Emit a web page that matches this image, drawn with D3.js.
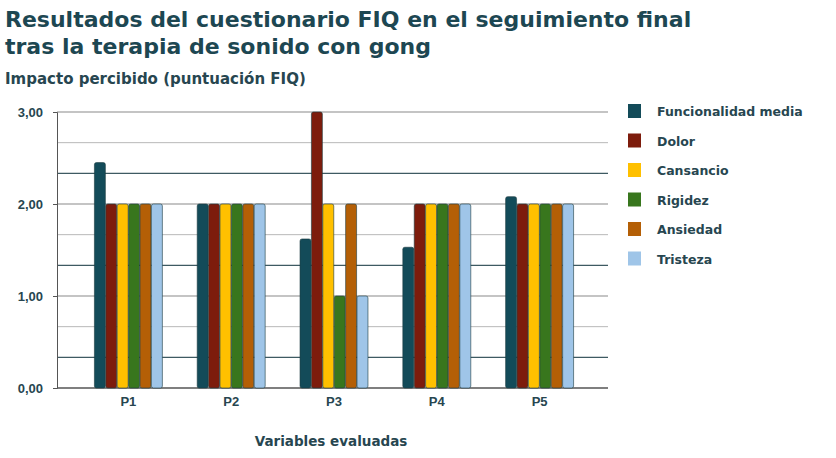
<!DOCTYPE html>
<html><head><meta charset="utf-8">
<script src="https://cdn.jsdelivr.net/npm/d3@7"></script>
<style>body{margin:0;background:#fff;font-family:"DejaVu Sans",Verdana,sans-serif}</style>
</head><body><svg id="c" width="836" height="458"></svg>
<script>
const cats = ["P1", "P2", "P3", "P4", "P5"];
const series = ["Funcionalidad media", "Dolor", "Cansancio", "Rigidez", "Ansiedad", "Tristeza"];
const colors = ["#134b59", "#7d1c0c", "#ffc000", "#38761d", "#b45f06", "#9fc5e8"];
const values = [
  [2.45, 2, 2, 2, 2, 2],
  [2, 2, 2, 2, 2, 2],
  [1.62, 3, 2, 1, 2, 1],
  [1.53, 2, 2, 2, 2, 2],
  [2.08, 2, 2, 2, 2, 2]
];
const yTicks = [0, 1, 2, 3];

const svg = d3.select("#c");
const txt = "#274650";
svg.append("text").attr("x", 5).attr("y", 27).text("Resultados del cuestionario FIQ en el seguimiento final")
  .attr("font-size", 22).attr("font-weight", "bold").attr("fill", "#1d4752");
svg.append("text").attr("x", 5).attr("y", 54).text("tras la terapia de sonido con gong")
  .attr("font-size", 22).attr("font-weight", "bold").attr("fill", "#1d4752");
svg.append("text").attr("x", 5).attr("y", 84).text("Impacto percibido (puntuación FIQ)")
  .attr("font-size", 15).attr("font-weight", "bold").attr("fill", txt);

const x0 = 57, x1 = 608;
const x = d3.scaleBand().domain(cats).range([77, 591]).paddingInner(0.33).paddingOuter(0.165);
const xs = d3.scaleBand().domain(series).range([0, x.bandwidth()]).padding(0.04);
const y = d3.scaleLinear().domain([0, 3]).range([388, 112]);

// grid
d3.range(1, 10).forEach(i => {
  const v = i / 3;
  if (i % 3 === 0) return;
  svg.append("line").attr("x1", x0).attr("x2", x1).attr("y1", y(v)).attr("y2", y(v))
    .attr("stroke", i % 3 === 1 ? "#3e5a62" : "#b8b8b8").attr("stroke-width", i % 3 === 1 ? 1.2 : 1);
});
yTicks.forEach(t => {
  if (t === 0) return;
  svg.append("line").attr("x1", x0).attr("x2", x1).attr("y1", y(t)).attr("y2", y(t))
    .attr("stroke", "#b0b0b0").attr("stroke-width", 1.5);
});

const gy = svg.append("g").attr("transform", `translate(${x0},0)`)
  .call(d3.axisLeft(y).tickValues(yTicks).tickSize(4).tickFormat(d => d3.format(".2f")(d).replace(".", ",")));
gy.select(".domain").attr("stroke", "#555");
gy.selectAll("text").attr("font-size", 13).attr("font-weight", "bold").attr("fill", txt).attr("x", -14);
gy.selectAll(".tick line").attr("stroke", "#555");

const gx = svg.append("g").attr("transform", `translate(0,388)`)
  .call(d3.axisBottom(x).tickSize(0).tickPadding(9));
gx.select(".domain").attr("d", `M${x0},0H${x1}`).attr("stroke", "#555").attr("stroke-width", 1.5);
gx.selectAll("text").attr("font-size", 13).attr("font-weight", "bold").attr("fill", txt);

cats.forEach((c, ci) => {
  svg.append("g").attr("transform", `translate(${x(c)},0)`)
    .selectAll("rect").data(values[ci]).join("rect")
    .attr("x", (d, i) => xs(series[i])).attr("width", xs.bandwidth())
    .attr("y", d => y(d)).attr("height", d => 388 - y(d))
    .attr("rx", 2).attr("fill", (d, i) => colors[i]).attr("stroke", "#1b3a40").attr("stroke-width", 0.6);
});

svg.append("text").attr("x", 331).attr("y", 446).attr("text-anchor", "middle").text("Variables evaluadas")
  .attr("font-size", 13.5).attr("font-weight", "bold").attr("fill", txt);

const lg = svg.append("g").attr("transform", "translate(628,104)");
series.forEach((s, i) => {
  const g = lg.append("g").attr("transform", `translate(0,${i * 29.5})`);
  g.append("rect").attr("width", 13).attr("height", 14).attr("fill", colors[i]);
  g.append("text").attr("x", 29).attr("y", 12).text(s)
    .attr("font-size", 12.5).attr("font-weight", "bold").attr("fill", txt);
});
</script></body></html>
